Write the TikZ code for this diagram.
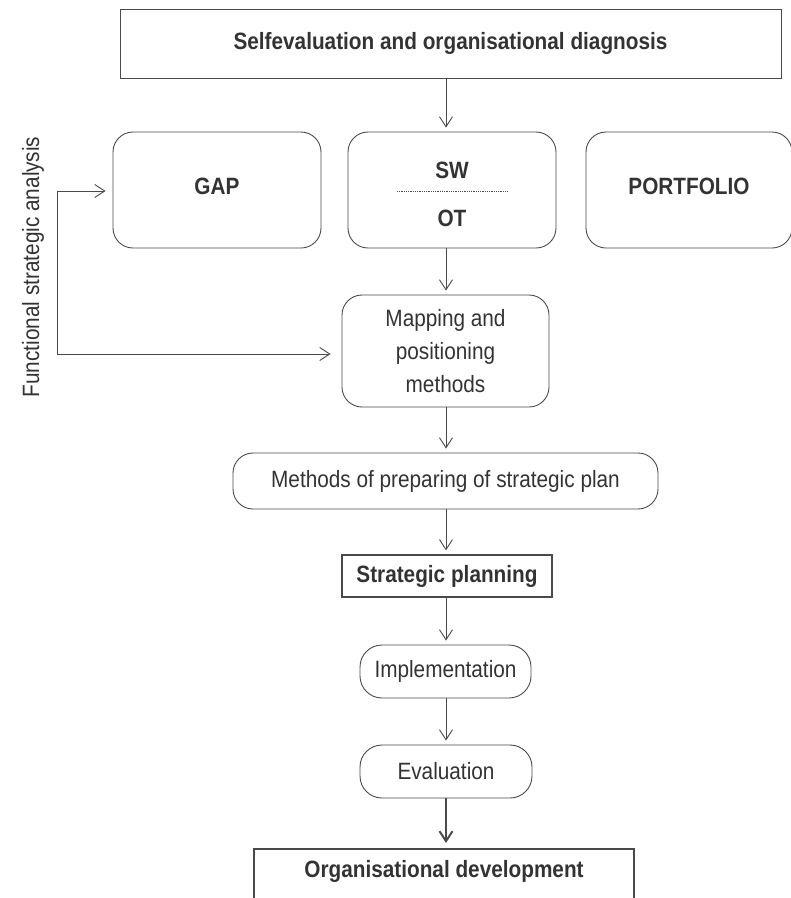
\documentclass[tikz,border=0pt]{standalone}
\usepackage{fontspec}
\setmainfont[FakeStretch=0.88]{Liberation Sans}
\usetikzlibrary{arrows.meta}
\definecolor{ink}{HTML}{333333}
\definecolor{rule}{HTML}{4A4A4A}

\begin{document}
\begin{tikzpicture}[x=1pt,y=-1pt,
  every node/.style={text=ink,font=\fontsize{23.6}{33}\selectfont,inner sep=0pt,align=center},
  sqbox/.style={draw=rule,line width=0.9pt},
  rbox/.style={draw=rule,line width=0.9pt,rounded corners=20pt},
  arr/.style={draw=rule,line width=0.9pt,shorten >=4pt,-{Straight Barb[length=10pt,width=13pt]}},
  bold/.style={font=\fontsize{23.6}{33}\selectfont\bfseries}]
 \useasboundingbox (0,0) rectangle (791,898);
 \clip (0,0) rectangle (791,898);
 \coordinate (spine) at (446,0);

 \node[sqbox,bold,minimum width=661pt,minimum height=69pt] (diag) at (450.5,43.5) {Selfevaluation and organisational diagnosis};

 %%%%%%%%%%%%%%%%%%%%%%%% three analyses
 \node[rbox,bold,minimum width=208pt,minimum height=116pt] (gap) at (217,190) {};
 \node[bold] (gaptxt) at (217,186) {GAP};
 \node[rbox,minimum width=208pt,minimum height=116pt] (swot) at (452,190) {};
 \node[bold] (sw) at (452,170) {SW};
 \node[bold] (ot) at (452,218) {OT};
 \draw[rule,line width=0.8pt,densely dotted] (397,191) -- (507,191);
 \node[rbox,minimum width=206pt,minimum height=116pt] (port) at (689,190) {};
 \node[bold] (porttxt) at (689,186) {PORTFOLIO};

 %%%%%%%%%%%%%%%%%%%%%%%% main column
 \node[rbox,minimum width=207pt,minimum height=112pt] (map) at (445.5,351) {Mapping and\\positioning\\methods};
 \node[rbox,minimum width=425pt,minimum height=56pt] (meth) at (445.5,481) {Methods of preparing of strategic plan};
 \node[sqbox,bold,line width=1.3pt,minimum width=210pt,minimum height=42pt] (plan) at (447,576) {Strategic planning};
 \node[rbox,rounded corners=22pt,minimum width=171pt,minimum height=53pt] (impl) at (445.5,671.5) {Implementation};
 \node[rbox,rounded corners=22pt,minimum width=172pt,minimum height=53pt] (eval) at (446,771.5) {Evaluation};
 \node[sqbox,line width=2pt,minimum width=380pt,minimum height=74pt] (dev) at (444,886) {};
 \node[bold] (devtxt) at (444,871) {Organisational development};

 \draw[arr] (diag.south -| spine) -- (swot.north -| spine);
 \draw[arr] (swot.south -| spine) -- (map.north -| spine);
 \draw[arr] (map.south -| spine) -- (meth.north -| spine);
 \draw[arr] (meth.south -| spine) -- (plan.north -| spine);
 \draw[arr] (plan.south -| spine) -- (impl.north -| spine);
 \draw[arr] (impl.south -| spine) -- (eval.north -| spine);
 \draw[arr,line width=2pt,shorten >=5pt] (eval.south -| spine) -- (dev.north -| spine);

 %%%%%%%%%%%%%%%%%%%%%%%% functional loop
 \node[rotate=90] (fsa) at (33,267) {Functional strategic analysis};
 \coordinate (lt) at (57,191);
 \coordinate (lb) at (57,354);
 \draw[arr,shorten <=7pt,{Straight Barb[length=10pt,width=13pt]}-{Straight Barb[length=10pt,width=13pt]}] (gap.west |- lt) -- (lt) -- (lb) -- ([xshift=-7pt]map.west |- lb);
\end{tikzpicture}
\end{document}
